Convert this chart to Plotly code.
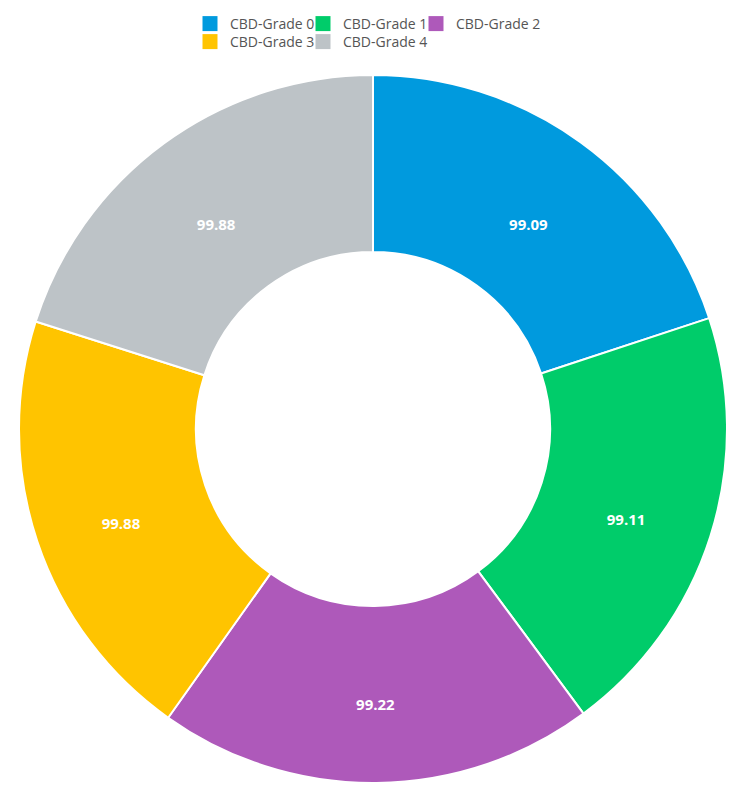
import plotly.graph_objects as go

labels = ["CBD-Grade 0", "CBD-Grade 1", "CBD-Grade 2", "CBD-Grade 3", "CBD-Grade 4"]
values = [99.09, 99.11, 99.22, 99.88, 99.88]
colors = ["#009ADE", "#00CC6A", "#AE59BA", "#FFC400", "#BDC3C7"]
legend_rows = ["legend", "legend", "legend", "legend2", "legend2"]

FONT = "Open Sans"
OFF = 8  # default page body margin

fig = go.Figure()
fig.add_trace(go.Pie(
    labels=labels,
    values=values,
    hole=0.5,
    sort=False,
    direction="clockwise",
    rotation=0,
    marker=dict(colors=colors, line=dict(color="white", width=2)),
    texttemplate=" <br>%{value:.2f}",
    textposition="inside",
    insidetextorientation="horizontal",
    textfont=dict(family=FONT, size=15, color="white", weight="bold"),
    showlegend=False,
    hoverinfo="label+value",
))

for lab, col, lg in zip(labels, colors, legend_rows):
    fig.add_trace(go.Scatter(
        x=[None], y=[None], mode="markers", name=lab,
        marker=dict(symbol="square", size=15, color=col),
        legend=lg, showlegend=True, hoverinfo="skip",
    ))

# invisible spacer entries so the last visible legend text is not clipped
for lg in ["legend", "legend2"]:
    fig.add_trace(go.Scatter(
        x=[None], y=[None], mode="markers", name=" ",
        marker=dict(symbol="square", size=1, color="rgba(0,0,0,0)"),
        legend=lg, showlegend=True, hoverinfo="skip",
    ))

legend_common = dict(
    orientation="h", xref="container", yref="container",
    xanchor="left", yanchor="top",
    font=dict(family=FONT, size=14, color="#555555"),
    entrywidth=68, entrywidthmode="pixels",
    bgcolor="rgba(0,0,0,0)", borderwidth=0,
)

fig.update_layout(
    width=741, height=798,
    margin=dict(l=19 - OFF, r=741 - 708 - (19 - OFF), t=75 - OFF, b=798 - 708 - (75 - OFF)),
    paper_bgcolor="white", plot_bgcolor="white",
    font=dict(family=FONT),
    xaxis=dict(visible=False),
    yaxis=dict(visible=False),
    legend=dict(x=(190 - OFF) / 741, y=1.0, **legend_common),
    legend2=dict(x=(190 - OFF) / 741, y=1 - 18 / 798, **legend_common),
)

fig.write_html("out.html")
